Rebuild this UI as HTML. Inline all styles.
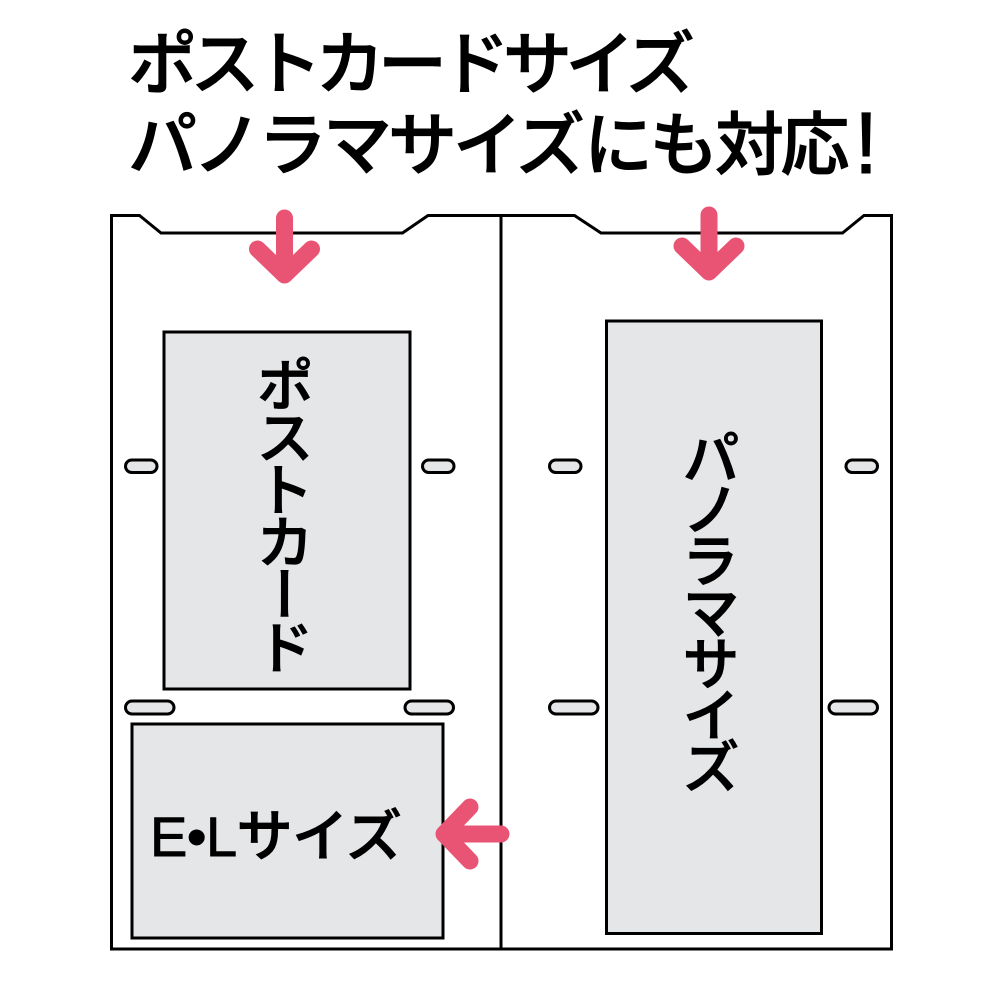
<!DOCTYPE html>
<html><head><meta charset="utf-8"><style>
html,body{margin:0;padding:0;background:#fff}
body{width:1001px;height:1001px;position:relative;overflow:hidden}
svg{position:absolute;left:0;top:0}
.t{position:absolute;font-family:"Liberation Sans","Noto Sans CJK JP",sans-serif;font-weight:500;color:#000;white-space:nowrap;line-height:1;-webkit-text-stroke:.9px #000}
.v{writing-mode:vertical-rl;font-family:"Noto Sans CJK JP",sans-serif}
</style></head><body>
<svg width="1001" height="1001" viewBox="0 0 1001 1001">
<g fill="none" stroke="#000" stroke-width="3">
<path d="M111.500 215.500H139.500L161 233H402.500L428 215.500H574.500L601 233H842.500L864 215.500H891.500V949H111.500Z" fill="#fff"/>
<path d="M501 215.500V949"/>
<g fill="#e5e6e8">
<rect x="164" y="332" width="246" height="357"/>
<rect x="132" y="724" width="311" height="214"/>
<rect x="606.500" y="321" width="215" height="612.500"/>
<rect x="125.500" y="460" width="31.500" height="12.500" rx="6.250"/>
<rect x="422.500" y="460" width="31.500" height="12.500" rx="6.250"/>
<rect x="549.500" y="460" width="31.500" height="12.500" rx="6.250"/>
<rect x="846" y="460" width="31.500" height="12.500" rx="6.250"/>
<rect x="125.500" y="701" width="48.500" height="13" rx="6.500"/>
<rect x="405" y="701" width="48.500" height="13" rx="6.500"/>
<rect x="549.500" y="701" width="48.500" height="13" rx="6.500"/>
<rect x="829" y="701" width="48.500" height="13" rx="6.500"/>
</g></g>
</svg>
<div class="t" style="left:128px;top:30px;font-size:69px;letter-spacing:-6.500px">ポストカードサイズ</div>
<div class="t" style="left:128px;top:111px;font-size:69px;letter-spacing:-4px">パノラマサイズ</div>
<div class="t" style="left:584px;top:111px;font-size:69px;letter-spacing:-3.500px">にも対応</div>
<div class="t" style="left:854px;top:100px;font-size:87px">!</div>
<div class="t v" style="left:256px;top:355px;font-size:58px;letter-spacing:-5.500px">ポストカード</div>
<div class="t v" style="left:682px;top:428px;font-size:58px;letter-spacing:-6.500px">パノラマサイズ</div>
<div class="t" style="left:150px;top:809px;font-size:56px;letter-spacing:-.500px">E•Lサイズ</div>
<svg width="1001" height="1001" viewBox="0 0 1001 1001">
<g fill="none" stroke="#ea5474" stroke-width="17" stroke-linecap="round" stroke-linejoin="round">
<path d="M284.500 218V274M257.500 249L284.500 275L311.500 249"/>
<path d="M709 215V271M682 246L709 272L736 246"/>
<path d="M501 834H445M470 807L444 834L470 861"/>
</g>
</svg>
</body></html>
